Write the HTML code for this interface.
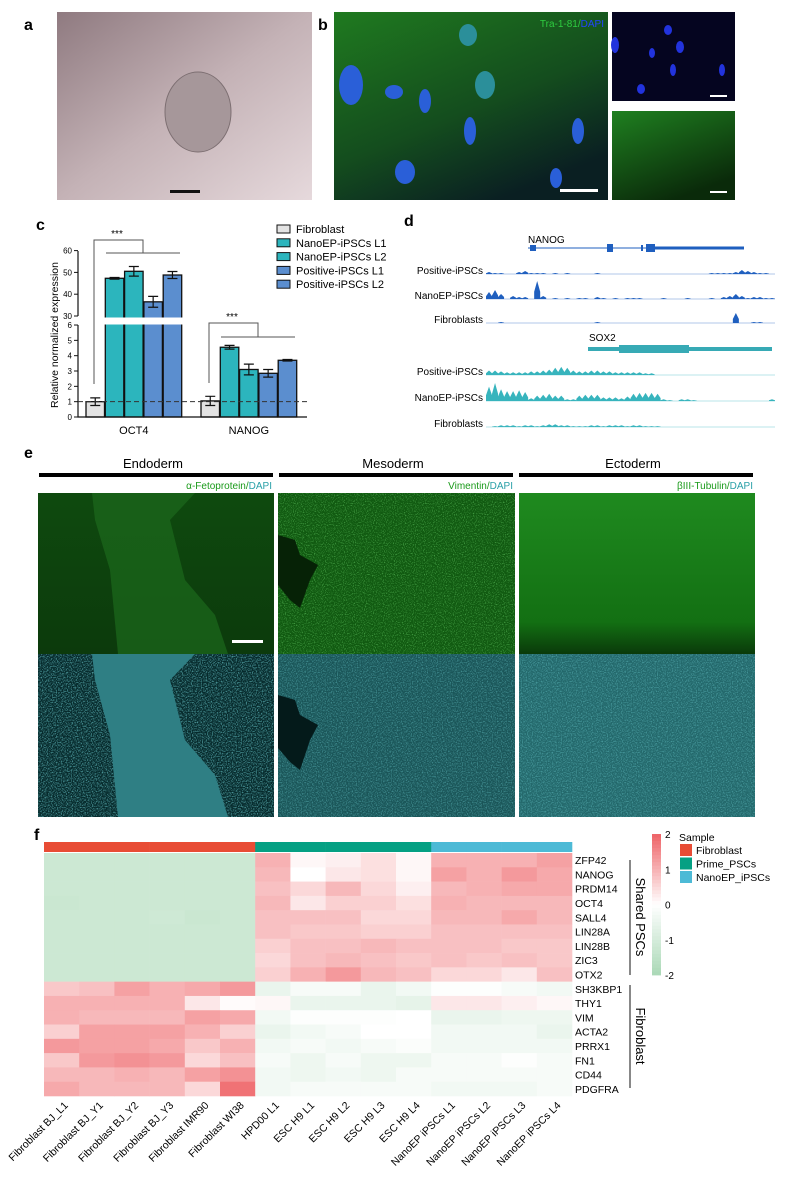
<!DOCTYPE html>
<html><head><meta charset="utf-8"><style>
body{margin:0;background:#fff;}
svg text{font-family:"Liberation Sans",Arial,sans-serif;}
</style></head><body>
<svg id="fig" width="788" height="1178" viewBox="0 0 788 1178" xmlns="http://www.w3.org/2000/svg">
<defs>
<linearGradient id="ga" x1="0" y1="0" x2="1" y2="1"><stop offset="0" stop-color="#8f7a80"/><stop offset="0.5" stop-color="#c4b2b6"/><stop offset="1" stop-color="#e6d9dc"/></linearGradient>
<linearGradient id="gb" x1="0" y1="0" x2="0.6" y2="1"><stop offset="0" stop-color="#1f7a1f"/><stop offset="0.6" stop-color="#144d1e"/><stop offset="1" stop-color="#0a1f22"/></linearGradient>
<linearGradient id="gb2" x1="0" y1="0" x2="0.5" y2="1"><stop offset="0" stop-color="#1f8020"/><stop offset="1" stop-color="#0a2a0a"/></linearGradient>
<linearGradient id="ge1" x1="0" y1="0" x2="0" y2="1"><stop offset="0" stop-color="#0e4a0e"/><stop offset="1" stop-color="#0c3a0c"/></linearGradient>
<linearGradient id="ge3" x1="0" y1="0" x2="0" y2="1"><stop offset="0" stop-color="#1f8a1f"/><stop offset="0.8" stop-color="#137013"/><stop offset="1" stop-color="#0a3a0a"/></linearGradient>
<filter id="noiseG" x="0" y="0" width="1" height="1"><feTurbulence type="fractalNoise" baseFrequency="0.9" numOctaves="1" seed="3"/><feColorMatrix values="0 0 0 0 0.2  0 0 0 0 0.8  0 0 0 0 0.2  0 0 0 2.2 -1.1"/></filter>
<filter id="noiseC" x="0" y="0" width="1" height="1"><feTurbulence type="fractalNoise" baseFrequency="0.8" numOctaves="1" seed="5"/><feColorMatrix values="0 0 0 0 0.2  0 0 0 0 0.75  0 0 0 0 0.78  0 0 0 3 -1.3"/></filter>
</defs>

<!-- Panel a -->
<text x="24" y="30" font-size="16" font-weight="bold">a</text>
<g>
<rect x="57" y="12" width="255" height="188" fill="url(#ga)"/>
<ellipse cx="198" cy="112" rx="33" ry="40" fill="#a6979a" stroke="#7d6f72" stroke-width="1"/>
<rect x="170" y="190" width="30" height="3" fill="#111"/>
</g>

<!-- Panel b -->
<text x="318" y="30" font-size="16" font-weight="bold">b</text>
<g>
<rect x="334" y="12" width="274" height="188" fill="url(#gb)"/>
<text x="604" y="27" font-size="10" text-anchor="end" fill="#2ecc40">Tra-1-81/<tspan fill="#2244ff">DAPI</tspan></text>
<g fill="#2a5fd8">
<ellipse cx="351" cy="85" rx="12" ry="20"/><ellipse cx="394" cy="92" rx="9" ry="7"/><ellipse cx="425" cy="101" rx="6" ry="12"/>
<ellipse cx="485" cy="85" rx="10" ry="14" fill="#2b8f9a"/><ellipse cx="468" cy="35" rx="9" ry="11" fill="#2b8f9a"/>
<ellipse cx="470" cy="131" rx="6" ry="14"/><ellipse cx="578" cy="131" rx="6" ry="13"/><ellipse cx="405" cy="172" rx="10" ry="12"/><ellipse cx="556" cy="178" rx="6" ry="10"/></g>
<rect x="560" y="189" width="38" height="3" fill="#fff"/>
</g>
<g>
<rect x="612" y="12" width="123" height="89" fill="#050520"/>
<g fill="#2233dd"><ellipse cx="615" cy="45" rx="4" ry="8"/><ellipse cx="668" cy="30" rx="4" ry="5"/><ellipse cx="680" cy="47" rx="4" ry="6"/><ellipse cx="652" cy="53" rx="3" ry="5"/><ellipse cx="673" cy="70" rx="3" ry="6"/><ellipse cx="722" cy="70" rx="3" ry="6"/><ellipse cx="641" cy="89" rx="4" ry="5"/></g>
<rect x="710" y="95" width="17" height="2" fill="#fff"/>
</g>
<g>
<rect x="612" y="111" width="123" height="89" fill="url(#gb2)"/>
<rect x="710" y="191" width="17" height="2" fill="#fff"/>
</g>

<!-- Panel c -->
<text x="36" y="230" font-size="16" font-weight="bold">c</text>
<g id="chartC"></g>

<!-- Panel d -->
<text x="404" y="226" font-size="16" font-weight="bold">d</text>
<g id="chartD"></g>

<!-- Panel e -->
<text x="24" y="458" font-size="16" font-weight="bold">e</text>
<g>
<text x="153" y="468" font-size="13" text-anchor="middle">Endoderm</text>
<text x="393" y="468" font-size="13" text-anchor="middle">Mesoderm</text>
<text x="633" y="468" font-size="13" text-anchor="middle">Ectoderm</text>
<rect x="39" y="473" width="234" height="4" fill="#000"/>
<rect x="279" y="473" width="234" height="4" fill="#000"/>
<rect x="519" y="473" width="234" height="4" fill="#000"/>
<text x="272" y="489" font-size="10" text-anchor="end" fill="#1a9a1a">α-Fetoprotein/<tspan fill="#2aa0a8">DAPI</tspan></text>
<text x="513" y="489" font-size="10" text-anchor="end" fill="#1a9a1a">Vimentin/<tspan fill="#2aa0a8">DAPI</tspan></text>
<text x="753" y="489" font-size="10" text-anchor="end" fill="#1a9a1a">βIII-Tubulin/<tspan fill="#2aa0a8">DAPI</tspan></text>
<!-- endoderm green -->
<rect x="38" y="493" width="236" height="161" fill="url(#ge1)"/>
<path d="M92 493 L195 493 L170 520 L185 580 L215 615 L228 654 L118 654 L110 570 L95 520 Z" fill="#1d6a1d" opacity="0.7"/>
<rect x="232" y="640" width="31" height="3" fill="#fff"/>
<!-- mesoderm green -->
<rect x="278" y="493" width="237" height="161" fill="#115a11"/>
<rect x="278" y="493" width="237" height="161" filter="url(#noiseG)" opacity="0.8"/>
<path d="M278 535 L295 540 L300 555 L318 565 L310 580 L300 608 L290 600 L278 585 Z" fill="#062206"/>
<!-- ectoderm green -->
<rect x="519" y="493" width="236" height="161" fill="url(#ge3)"/>
<!-- cyan row -->
<rect x="38" y="654" width="236" height="163" fill="#062a2c"/>
<rect x="38" y="654" width="236" height="163" filter="url(#noiseC)" opacity="0.6"/>
<path d="M92 654 L195 654 L170 680 L185 740 L215 775 L228 817 L118 817 L110 735 L95 680 Z" fill="#2f7f84"/>
<rect x="278" y="654" width="237" height="163" fill="#1a5558"/>
<rect x="278" y="654" width="237" height="163" filter="url(#noiseC)" opacity="0.4"/>
<path d="M278 695 L295 700 L300 715 L318 725 L310 740 L300 770 L290 762 L278 748 Z" fill="#041a1a"/>
<rect x="519" y="654" width="236" height="163" fill="#23686b"/>
<rect x="519" y="654" width="236" height="163" filter="url(#noiseC)" opacity="0.4"/>
</g>

<!-- Panel f -->
<text x="34" y="840" font-size="16" font-weight="bold">f</text>
<g id="chartF"></g>
</svg>

<script>
const NS="http://www.w3.org/2000/svg";
function mk(parent,tag,attrs,text){const e=document.createElementNS(NS,tag);for(const k in attrs)e.setAttribute(k,attrs[k]);if(text!==undefined)e.textContent=text;parent.appendChild(e);return e;}

/* ---------- Panel c data ---------- */
const cGenes=["OCT4","NANOG"];
const cSeries=["Fibroblast","NanoEP-iPSCs L1","NanoEP-iPSCs L2","Positive-iPSCs L1","Positive-iPSCs L2"];
const cOct4=[1.0,47.3,50.5,36.5,48.8];
const cOct4Err=[0.25,0.4,2.2,2.5,1.6];
const cNanog=[1.05,4.55,3.1,2.85,3.7];
const cNanogErr=[0.3,0.12,0.35,0.25,0.05];
const cLowTicks=[0,1,2,3,4,5,6];
const cHighTicks=[30,40,50,60];

(function(){
const g=document.getElementById('chartC');
const fills=["#e3e3e3","#2cb5bd","#2cb5bd","#5b8ecf","#5b8ecf"];
const ax=78,y0=417;
const yLow=v=>y0-v*15.33;
const yHigh=v=>316-(v-30)*2.18;
const yv=v=>v<=6?yLow(v):yHigh(v);
const groups=[{vals:cOct4,err:cOct4Err,x:86},{vals:cNanog,err:cNanogErr,x:201}];
const bw=18.5,step=19.3;
groups.forEach((gr,gi)=>{
 gr.vals.forEach((v,i)=>{
  const x=gr.x+i*step,yt=yv(v);
  const r=mk(g,'rect',{x:x,y:yt,width:bw,height:y0-yt,fill:fills[i],stroke:"#111","stroke-width":1.3});
  
  
  const cx=x+bw/2,e=gr.err[i];
  const hi=yv(v+e),lo=yv(v-e);
  mk(g,'path',{d:`M${cx} ${hi}V${lo}M${cx-5} ${hi}H${cx+5}M${cx-5} ${lo}H${cx+5}`,stroke:"#111","stroke-width":1.2,fill:"none"});
 });
 const lbl=mk(g,'text',{x:gr.x+2*step+bw/2,y:434,"font-size":11,"text-anchor":"middle"},cGenes[gi]);
 
 
});
mk(g,'rect',{x:84,y:317.5,width:100,height:7,fill:"#fff"});
mk(g,'path',{d:`M${ax} 251V316M${ax} 325V${y0}H307`,stroke:"#111","stroke-width":1.2,fill:"none"});
cLowTicks.forEach(t=>{mk(g,'path',{d:`M${ax-4} ${yLow(t)}H${ax}`,stroke:"#111"});mk(g,'text',{x:ax-6,y:yLow(t)+3,"font-size":8,"text-anchor":"end"},t);});
cHighTicks.forEach(t=>{mk(g,'path',{d:`M${ax-4} ${yHigh(t)}H${ax}`,stroke:"#111"});mk(g,'text',{x:ax-6,y:yHigh(t)+3,"font-size":8,"text-anchor":"end"},t);});
mk(g,'line',{x1:ax,y1:yLow(1),x2:307,y2:yLow(1),stroke:"#333","stroke-dasharray":"5,3","stroke-width":1});
const yl=mk(g,'text',{transform:"translate(58,335) rotate(-90)","font-size":10.5,"text-anchor":"middle"},"Relative normalized expression");

mk(g,'path',{d:"M94 384V240H143V253M106 253H180",stroke:"#555","stroke-width":1,fill:"none"});
mk(g,'text',{x:117,y:237,"font-size":10,"text-anchor":"middle"},"***");
mk(g,'path',{d:"M209 383V323H258V337M221 337H295",stroke:"#555","stroke-width":1,fill:"none"});
mk(g,'text',{x:232,y:320,"font-size":10,"text-anchor":"middle"},"***");
cSeries.forEach((s,i)=>{
 const y=225+i*13.8;
 const sw=mk(g,'rect',{x:277,y:y,width:13,height:8,fill:fills[i],stroke:"#111","stroke-width":1});
 
 const t=mk(g,'text',{x:296,y:y+8,"font-size":11},s);
 
});
})();

/* ---------- Panel d data ---------- */
const dTrackLabels=["Positive-iPSCs","NanoEP-iPSCs","Fibroblasts"];
const nanogPos=[2,1,1,0,0,2,3,1,1,1,0,1,0,1,0,0,0,0,1,0,0,0,0,0,0,0,0,0,0,0,0,0,0,0,0,0,0,1,1,1,1,2,4,3,2,1,1,0];
const nanogNano=[7,9,5,0,3,2,2,0,18,3,0,1,0,1,0,1,1,0,2,1,0,1,0,1,1,1,0,0,0,1,0,0,0,1,0,0,0,1,0,2,3,5,3,1,2,2,1,1];
const nanogFib=[0,0,1,0,0,0,0,0,0,0,0,0,0,0,0,0,0,0,1,0,0,0,0,0,0,0,0,0,0,0,0,0,0,0,0,0,0,0,0,0,0,10,0,0,1,1,0,0];
const soxPos=[5,5,4,3,3,3,3,4,4,5,6,8,9,8,5,4,4,5,5,4,4,3,3,3,3,3,2,2,0,0,0,0,0,0,0,0,0,0,0,0,0,0,0,0,0,0,0,0];
const soxNano=[16,20,13,11,11,12,10,3,6,7,8,6,6,2,2,6,7,7,7,4,4,4,3,5,8,9,9,9,8,2,1,0,2,2,1,0,0,0,0,0,0,0,0,0,0,0,0,2];
const soxFib=[0,1,2,2,2,1,2,2,1,2,3,3,2,2,1,1,1,2,2,1,2,2,2,1,2,2,1,1,1,0,0,0,0,0,0,0,0,0,0,0,0,0,0,0,0,0,0,0];

(function(){
const g=document.getElementById('chartD');
const x0=486,x1=775;
const tracks=[
 {d:nanogPos,y:274,c:"#1f5fbf",l:0,gene:"nanog"},{d:nanogNano,y:299,c:"#1f5fbf",l:1,gene:"nanog"},{d:nanogFib,y:323,c:"#1f5fbf",l:2,gene:"nanog"},
 {d:soxPos,y:375,c:"#37b4bd",l:0,gene:"sox2"},{d:soxNano,y:401,c:"#37b4bd",l:1,gene:"sox2"},{d:soxFib,y:427,c:"#37b4bd",l:2,gene:"sox2"}];
tracks.forEach(t=>{
 const n=t.d.length,w=(x1-x0)/n;
 const sc=t.gene==="nanog"?1.0:0.9;
 let d=`M${x0} ${t.y}`;
 t.d.forEach((v,i)=>{const xm=x0+(i+0.5)*w;d+=` L${x0+i*w} ${t.y-v*sc*0.4} L${xm} ${t.y-v*sc} L${x0+(i+1)*w} ${t.y-v*sc*0.4}`;});
 d+=` L${x1} ${t.y} Z`;
 mk(g,'line',{x1:x0,y1:t.y,x2:x1,y2:t.y,stroke:t.c,"stroke-opacity":0.35,"stroke-width":1});
 const p=mk(g,'path',{d:d,fill:t.c});
 
 const lb=mk(g,'text',{x:483,y:t.y,"font-size":10,"text-anchor":"end"},dTrackLabels[t.l]);
 
});
mk(g,'text',{x:528,y:243,"font-size":10},"NANOG");
mk(g,'line',{x1:528,y1:248,x2:744,y2:248,stroke:"#1f5fbf","stroke-width":1});
mk(g,'rect',{x:530,y:245,width:6,height:6,fill:"#1f5fbf"});
mk(g,'rect',{x:607,y:244,width:6,height:8,fill:"#1f5fbf"});
mk(g,'rect',{x:641,y:245,width:2,height:6,fill:"#1f5fbf"});
mk(g,'rect',{x:646,y:244,width:9,height:8,fill:"#1f5fbf"});
mk(g,'rect',{x:655,y:246.5,width:89,height:3,fill:"#1f5fbf"});
mk(g,'text',{x:589,y:341,"font-size":10},"SOX2");
mk(g,'rect',{x:588,y:347,width:184,height:4,fill:"#37aab5"});
mk(g,'rect',{x:619,y:345,width:70,height:8,fill:"#37aab5"});
})();

/* ---------- Panel f data ---------- */
const fGenes=["ZFP42","NANOG","PRDM14","OCT4","SALL4","LIN28A","LIN28B","ZIC3","OTX2","SH3KBP1","THY1","VIM","ACTA2","PRRX1","FN1","CD44","PDGFRA"];
const fSamples=["Fibroblast BJ_L1","Fibroblast BJ_Y1","Fibroblast BJ_Y2","Fibroblast BJ_Y3","Fibroblast IMR90","Fibroblast WI38","HPD00 L1","ESC H9 L1","ESC H9 L2","ESC H9 L3","ESC H9 L4","NanoEP iPSCs L1","NanoEP iPSCs L2","NanoEP iPSCs L3","NanoEP iPSCs L4"];
const fGroups=[0,0,0,0,0,0,1,1,1,1,1,2,2,2,2];
const fGroupNames=["Fibroblast","Prime_PSCs","NanoEP_iPSCs"];
const fColorTicks=[2,1,0,-1,-2];
const fValues=[
[-1.2,-1.2,-1.2,-1.2,-1.2,-1.2, 1.0,0.1,0.2,0.4,0.1, 1.0,1.0,1.0,1.2],
[-1.2,-1.2,-1.2,-1.2,-1.2,-1.2, 0.9,0.0,0.3,0.4,0.1, 1.2,1.0,1.3,1.1],
[-1.2,-1.2,-1.2,-1.2,-1.2,-1.2, 0.8,0.5,0.9,0.5,0.2, 0.9,1.0,1.1,1.1],
[-1.25,-1.2,-1.2,-1.2,-1.2,-1.2, 0.9,0.3,0.6,0.6,0.4, 1.0,0.9,0.9,0.9],
[-1.2,-1.2,-1.2,-1.15,-1.25,-1.2, 0.8,0.8,0.8,0.5,0.5, 0.9,0.9,1.1,0.9],
[-1.2,-1.2,-1.2,-1.2,-1.2,-1.2, 0.8,0.7,0.7,0.6,0.6, 0.8,0.8,0.8,0.8],
[-1.2,-1.2,-1.2,-1.2,-1.2,-1.2, 0.6,0.8,0.8,0.9,0.8, 0.8,0.8,0.7,0.7],
[-1.2,-1.2,-1.2,-1.2,-1.2,-1.2, 0.5,0.8,0.9,0.8,0.7, 0.8,0.7,0.8,0.7],
[-1.2,-1.2,-1.2,-1.2,-1.2,-1.2, 0.6,1.0,1.3,0.9,0.8, 0.5,0.5,0.3,0.8],
[0.7,0.8,1.2,1.0,1.1,1.3, -0.5,-0.2,-0.2,-0.5,-0.3, -0.05,-0.05,-0.2,-0.3],
[1.0,1.0,1.0,1.0,0.3,0.05, 0.1,-0.5,-0.5,-0.5,-0.6, 0.3,0.3,0.2,0.1],
[1.0,0.9,0.9,0.9,1.2,1.1, -0.3,-0.05,-0.05,-0.05,0.0, -0.5,-0.5,-0.4,-0.4],
[0.6,1.2,1.2,1.2,1.0,0.6, -0.5,-0.3,-0.2,0.0,0.0, -0.3,-0.3,-0.3,-0.5],
[1.3,1.2,1.2,1.1,0.7,1.0, -0.3,-0.2,-0.3,-0.2,-0.1, -0.3,-0.3,-0.3,-0.3],
[0.7,1.3,1.4,1.3,0.5,0.8, -0.2,-0.4,-0.2,-0.4,-0.4, -0.2,-0.2,-0.05,-0.2],
[0.9,0.9,1.0,0.9,1.2,1.4, -0.3,-0.4,-0.3,-0.4,-0.2, -0.2,-0.2,-0.2,-0.2],
[1.1,0.9,0.9,0.9,0.5,1.8, -0.3,-0.2,-0.2,-0.2,-0.2, -0.3,-0.3,-0.3,-0.2]];

(function(){
const g=document.getElementById('chartF');
const x0=44,x1=572,y0=853,y1=1096;
const cw=(x1-x0)/fSamples.length,rh=(y1-y0)/fGenes.length;
const gcol=["#e84c35","#05a083","#4dbad6"];
function col(v){v=Math.max(-2,Math.min(2,v));let a,b,t;
 if(v>=0){a=[255,255,255];b=[238,98,102];t=v/2;}else{a=[255,255,255];b=[170,216,182];t=-v/2;}
 return `rgb(${Math.round(a[0]+(b[0]-a[0])*t)},${Math.round(a[1]+(b[1]-a[1])*t)},${Math.round(a[2]+(b[2]-a[2])*t)})`;}
fSamples.forEach((s,j)=>{
 const a=mk(g,'rect',{x:x0+j*cw,y:842,width:cw+0.3,height:10,fill:gcol[fGroups[j]]});
 
 const cx=x0+(j+0.5)*cw+7;
 const t=mk(g,'text',{transform:`translate(${cx},1106) rotate(-45)`,"font-size":10.5,"text-anchor":"end"},s);
 
});
fValues.forEach((row,i)=>{
 row.forEach((v,j)=>{
  const r=mk(g,'rect',{x:x0+j*cw,y:y0+i*rh,width:cw+0.3,height:rh+0.3,fill:col(v)});
  
 });
 const t=mk(g,'text',{x:575,y:y0+(i+0.5)*rh+4,"font-size":10.5},fGenes[i]);
 
});
mk(g,'line',{x1:630,y1:860,x2:630,y2:975,stroke:"#111"});
mk(g,'line',{x1:630,y1:985,x2:630,y2:1088,stroke:"#111"});
mk(g,'text',{transform:"translate(636,917) rotate(90)","font-size":13,"text-anchor":"middle"},"Shared PSCs");
mk(g,'text',{transform:"translate(636,1036) rotate(90)","font-size":13,"text-anchor":"middle"},"Fibroblast");
const cbTop=834,cbBot=975;
for(let k=0;k<40;k++){const v=2-4*(k+0.5)/40;mk(g,'rect',{x:652,y:cbTop+k*(cbBot-cbTop)/40,width:9,height:(cbBot-cbTop)/40+0.4,fill:col(v)});}
fColorTicks.forEach(t=>{mk(g,'text',{x:665,y:cbTop+(2-t)/4*(cbBot-cbTop)+4,"font-size":10},t);});
mk(g,'text',{x:679,y:841,"font-size":10.5},"Sample");
fGroupNames.forEach((n,k)=>{
 const sw=mk(g,'rect',{x:680,y:844+k*13.5,width:12,height:12,fill:gcol[k]});
 
 const t=mk(g,'text',{x:696,y:854+k*13.5,"font-size":10.5},n);
 
});
})();
</script>
</body></html>
